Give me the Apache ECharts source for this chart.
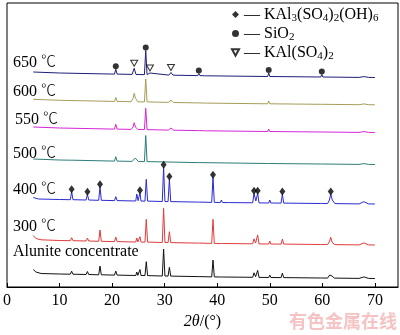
<!DOCTYPE html>
<html>
<head>
<meta charset="utf-8">
<script src="https://cdn.jsdelivr.net/npm/echarts@6/dist/echarts.min.js"></script>
<style>
  html, body { margin: 0; padding: 0; background: #fff; }
  #chart { width: 400px; height: 335px; }
</style>
</head>
<body>
<div id="chart"></div>
<script>
// XRD patterns of alunite concentrate roasted at different temperatures.
// Each pattern: [2θ (°), relative intensity]; patterns are stacked by a vertical offset.

const patternNames = ['Alunite concentrate', '300 ℃', '400 ℃', '500 ℃', '550 ℃', '600 ℃', '650 ℃'];
const patternOffsets = [10, 43.5, 84.5, 124, 156, 183.7, 211];
const patternColors = ['#111111', '#e23b3b', '#2a2ad2', '#2c7d78', '#d925d9', '#a59d58', '#1e1e78'];

const alunite = [
  [5, 7.5], [5.5, 5], [6.5, 3.5], [10, 3],
  [12.05, 2.8], [12.3, 5.8], [12.55, 2.8],
  [15.05, 2.5], [15.3, 5.5], [15.55, 2.5],
  [17.45, 2.2], [17.7, 11], [17.95, 2.2],
  [20.45, 1.9], [20.7, 5.9], [20.95, 1.9],
  [24.5, 1.5], [24.7, 5], [24.9, 1.6], [25.1, 1.5], [25.3, 7.5], [25.5, 1.5],
  [26.25, 1.4], [26.5, 15.3], [26.75, 1.4],
  [29.55, 1], [29.8, 28], [30.05, 1],
  [30.65, 0.9], [30.9, 9.7], [31.15, 0.9],
  [36.3, 0.4], [36.5, 2.4], [36.7, 0.4],
  [38.95, 0.1], [39.2, 17], [39.45, 0.1],
  [40.6, 0], [40.8, 2], [41, 0],
  [46.75, -0.3], [47, 4.2], [47.3, 0.3], [47.7, 6.6], [47.95, -0.4],
  [49.8, -0.5], [50, 2], [50.2, -0.5],
  [52.15, -0.6], [52.4, 3.9], [52.65, -0.6],
  [59.7, -1], [59.9, 1], [60.1, -1],
  [61, -1.1], [61.4, 2], [61.6, 3.9], [61.85, 1], [62.3, -1.1],
  [67, -1.4], [67.9, 0.1], [68.8, -1.4],
  [70, -1.5]
];

const roast300 = [
  [5, 8], [5.5, 5], [6.5, 3.7], [10, 3],
  [12.05, 2.8], [12.3, 5.8], [12.55, 2.8],
  [15.05, 2.5], [15.3, 5.5], [15.55, 2.5],
  [17.45, 2.2], [17.7, 13.5], [17.95, 2.2],
  [20.45, 1.9], [20.7, 6.4], [20.95, 1.9],
  [24.5, 1.5], [24.7, 5.5], [24.9, 1.6], [25.1, 1.5], [25.3, 6.8], [25.5, 1.5],
  [26.25, 1.4], [26.5, 24.2], [26.75, 1.4],
  [29.55, 1], [29.8, 35.2], [30.05, 1],
  [30.65, 0.9], [30.9, 11.8], [31.15, 0.9],
  [36.3, 0.4], [36.5, 2.4], [36.7, 0.4],
  [38.95, 0.1], [39.2, 24.2], [39.45, 0.1],
  [40.6, 0], [40.8, 2], [41, 0],
  [46.75, -0.3], [47, 4.7], [47.3, 0.5], [47.7, 8.5], [47.95, -0.4],
  [49.8, -0.5], [50, 2.5], [50.2, -0.5],
  [52.15, -0.6], [52.4, 4.4], [52.65, -0.6],
  [59.7, -1], [59.9, 1], [60.1, -1],
  [61, -1.1], [61.4, 2.5], [61.6, 6.2], [61.85, 1.5], [62.3, -1.1],
  [67, -1.4], [67.9, 0.6], [68.8, -1.4],
  [70, -1.5]
];

const roast400 = [
  [5, 5], [6, 3.5], [10, 3],
  [12.05, 2.8], [12.3, 10.8], [12.55, 2.8],
  [15.05, 2.5], [15.3, 8.2], [15.55, 2.5],
  [17.45, 2.2], [17.7, 15.8], [17.95, 2.2],
  [20.45, 1.9], [20.7, 5.8], [20.95, 1.9],
  [24.5, 1.5], [24.7, 8.5], [24.95, 1.8], [25.1, 1.8], [25.3, 9.8], [25.5, 1.5],
  [26.25, 1.4], [26.5, 23.2], [26.75, 1.4],
  [29.55, 1], [29.8, 35.2], [30.05, 1],
  [30.65, 0.9], [30.9, 23.5], [31.15, 0.9],
  [36.3, 0.4], [36.5, 2.4], [36.7, 0.4],
  [38.95, 0.1], [39.2, 25.2], [39.45, 0.1],
  [40.6, 0], [40.8, 2.5], [41, 0],
  [42.2, -0.1], [42.4, 1.4], [42.6, -0.1],
  [46.75, -0.3], [47, 9.2], [47.35, 1.5], [47.7, 9.2], [47.95, -0.4],
  [49.8, -0.5], [50, 2.5], [50.2, -0.5],
  [52.15, -0.6], [52.4, 8.5], [52.65, -0.6],
  [59.7, -1], [59.9, 1], [60.1, -1],
  [61, -1.1], [61.35, 2.5], [61.6, 8.5], [61.9, 2.5], [62.4, -1.1],
  [67, -1.4], [67.9, 0.8], [68.8, -1.4],
  [70, -1.5]
];

const roast500 = [
  [5, 4], [10, 3],
  [12.1, 2.8], [12.3, 4.3], [12.5, 2.8],
  [20.45, 1.9], [20.7, 6.3], [20.95, 1.9],
  [23.8, 1.6], [24.4, 5], [25, 1.5],
  [26.15, 1.4], [26.4, 27.5], [26.65, 1.4],
  [36.3, 0.4], [36.5, 2], [36.7, 0.4],
  [49.6, -0.5], [49.8, 1.5], [50, -0.5],
  [59.7, -1], [59.9, 0.5], [60.1, -1],
  [67, -1.4], [67.9, -0.6], [68.8, -1.4],
  [70, -1.5]
];

const roast550 = [
  [5, 4], [10, 3],
  [20.45, 1.9], [20.7, 6.7], [20.95, 1.9],
  [23.6, 1.6], [24, 4], [24.2, 8.3], [24.45, 4], [24.9, 1.5],
  [26.15, 1.4], [26.4, 22.7], [26.65, 1.4],
  [30.7, 0.9], [31.2, 3], [31.7, 0.8],
  [36.3, 0.4], [36.5, 2], [36.7, 0.4],
  [37.6, 0.2], [37.8, 1.5], [38, 0.2],
  [49.6, -0.5], [49.8, 2], [50, -0.5],
  [59.7, -1], [59.9, 0.5], [60.1, -1],
  [67, -1.4], [67.9, -0.6], [68.8, -1.4],
  [70, -1.5]
];

const roast600 = [
  [5, 4], [10, 3],
  [20.45, 1.9], [20.7, 6], [20.95, 1.9],
  [23.6, 1.6], [24, 5], [24.2, 10], [24.45, 5], [24.9, 1.5],
  [26.15, 1.4], [26.4, 24.3], [26.65, 1.4],
  [30.7, 0.9], [31.2, 3], [31.7, 0.8],
  [36.3, 0.4], [36.5, 2], [36.7, 0.4],
  [37.6, 0.2], [37.8, 2], [38, 0.2],
  [49.6, -0.5], [49.8, 2.3], [50, -0.5],
  [59.7, -1], [59.9, 0.5], [60.1, -1],
  [67, -1.4], [67.9, -0.6], [68.8, -1.4],
  [70, -1.5]
];

const roast650 = [
  [5, 4], [10, 3],
  [20.45, 1.9], [20.7, 6.7], [20.95, 1.9],
  [23.8, 1.6], [24.2, 7.7], [24.55, 1.5],
  [26.15, 1.4], [26.4, 25.5], [26.65, 1.4],
  [26.95, 1.3], [27.2, 3], [27.45, 1.3],
  [30.8, 0.9], [31.2, 3.5], [31.6, 0.8],
  [36.3, 0.4], [36.5, 2.5], [36.7, 0.4],
  [37.6, 0.2], [37.8, 1.5], [38, 0.2],
  [49.6, -0.5], [49.8, 3], [50, -0.5],
  [59.7, -1], [59.9, 1.5], [60.1, -1],
  [67, -1.4], [67.9, -0.6], [68.8, -1.4],
  [70, -1.5]
];

const patterns = [alunite, roast300, roast400, roast500, roast550, roast600, roast650];

// Phase identification marks (2θ positions of the indexed reflections)
const alunitePeaks400 = [12.3, 15.3, 17.7, 25.3, 29.8, 30.9, 39.2, 47, 47.7, 52.4, 61.6];
const quartzPeaks650 = [20.7, 26.4, 36.5, 49.8, 59.9];
const kalSulfatePeaks650 = [24.2, 27.2, 31.2];

const phaseNames = ['KAl3(SO4)2(OH)6', 'SiO2', 'KAl(SO4)2'];
const phaseLegendText = {
  'KAl3(SO4)2(OH)6': '— KAl{s|3}(SO{s|4}){s|2}(OH){s|6}',
  'SiO2': '— SiO{s|2}',
  'KAl(SO4)2': '— KAl(SO{s|4}){s|2}'
};

const xTicks = { min: 0, max: 74.4, interval: 10 };

const SERIF = '"Liberation Serif", "Times New Roman", serif';
const CJK = '"Noto Sans CJK SC", sans-serif';

const stacked = patterns.map((pts, i) => pts.map(([t, v]) => [t, patternOffsets[i] + v]));

function valueAt(series, t) {
  const hit = series.find(p => p[0] === t);
  return hit ? hit[1] : null;
}

const lineSeries = stacked.map((data, i) => ({
  type: 'line',
  name: patternNames[i],
  data: data,
  showSymbol: false,
  symbol: 'none',
  silent: true,
  z: 2,
  lineStyle: { color: patternColors[i], width: 1 }
}));

const markerSeries = [
  {
    type: 'scatter', name: phaseNames[0], silent: true, z: 5,
    data: alunitePeaks400.map(t => [t, valueAt(stacked[2], t)]),
    symbol: 'diamond', symbolSize: [6, 8], symbolOffset: [0, -2.5],
    itemStyle: { color: '#000' }
  },
  {
    type: 'scatter', name: phaseNames[1], silent: true, z: 5,
    data: quartzPeaks650.map(t => [t, valueAt(stacked[6], t)]),
    symbol: 'circle', symbolSize: 6, symbolOffset: [0, -3],
    itemStyle: { color: '#000' }
  },
  {
    type: 'scatter', name: phaseNames[2], silent: true, z: 5,
    data: kalSulfatePeaks650.map(t => [t, valueAt(stacked[6], t)]),
    symbol: 'path://M0,0L10,0L5,9Z', symbolSize: [7, 6], symbolOffset: [0, -5],
    itemStyle: { color: '#fff', borderColor: '#000', borderWidth: 1 }
  }
];

// Sample labels placed above the start of each pattern; the ℃ sign uses a CJK face
const labelLayout = [[13, 252], [13, 227], [13, 190], [13, 154], [15, 120], [13, 92], [13, 63]];
const labelGraphics = patternNames.map((name, i) => ({
  type: 'text',
  x: labelLayout[i][0],
  y: labelLayout[i][1],
  silent: true,
  z: 10,
  style: {
    text: name.replace('℃', '{c|℃}'),
    fill: '#000', fontSize: 16, fontFamily: SERIF,
    align: 'left', verticalAlign: 'middle',
    rich: { c: { fontFamily: CJK, fontSize: 15, fill: '#000', fontWeight: 300, padding: [0, 0, 5, 0] } }
  }
}));

const chart = echarts.init(document.getElementById('chart'), null, { renderer: 'canvas' });
chart.setOption({
  animation: false,
  backgroundColor: '#fff',
  grid: {
    left: 6, right: 2, top: 3, bottom: 48,
    show: true, borderColor: '#000', borderWidth: 1
  },
  xAxis: {
    type: 'value',
    min: xTicks.min, max: xTicks.max, interval: xTicks.interval,
    axisLine: { show: true, lineStyle: { color: '#000', width: 1 } },
    axisTick: { show: true, inside: true, length: 4, lineStyle: { color: '#000' } },
    axisLabel: { color: '#000', fontSize: 16, fontFamily: SERIF, margin: 6, showMaxLabel: false },
    splitLine: { show: false },
    name: '{i|2θ}/(°)',
    nameLocation: 'middle',
    nameGap: 27,
    nameTextStyle: {
      color: '#000', fontSize: 16, fontFamily: SERIF,
      rich: { i: { fontStyle: 'italic', fontSize: 16, fontFamily: SERIF, color: '#000' } }
    }
  },
  yAxis: { type: 'value', min: 0, max: 284, show: false, splitLine: { show: false } },
  legend: {
    data: phaseNames,
    orient: 'vertical',
    left: 226, top: 0,
    itemGap: 0,
    itemWidth: 7, itemHeight: 7,
    selectedMode: false,
    formatter: name => phaseLegendText[name],
    textStyle: {
      color: '#000', fontSize: 16, fontFamily: SERIF, lineHeight: 19,
      rich: { s: { fontSize: 11, fontFamily: SERIF, color: '#000', verticalAlign: 'bottom', lineHeight: 12 } }
    }
  },
  graphic: labelGraphics.concat([{
    type: 'text', x: 397, y: 321, silent: true, z: 10,
    style: {
      text: '有色金属在线', fill: '#f5c3c3', fontSize: 18, fontWeight: 'bold',
      fontFamily: CJK, align: 'right', verticalAlign: 'middle'
    }
  }]),
  series: lineSeries.concat(markerSeries)
});
</script>
</body>
</html>
